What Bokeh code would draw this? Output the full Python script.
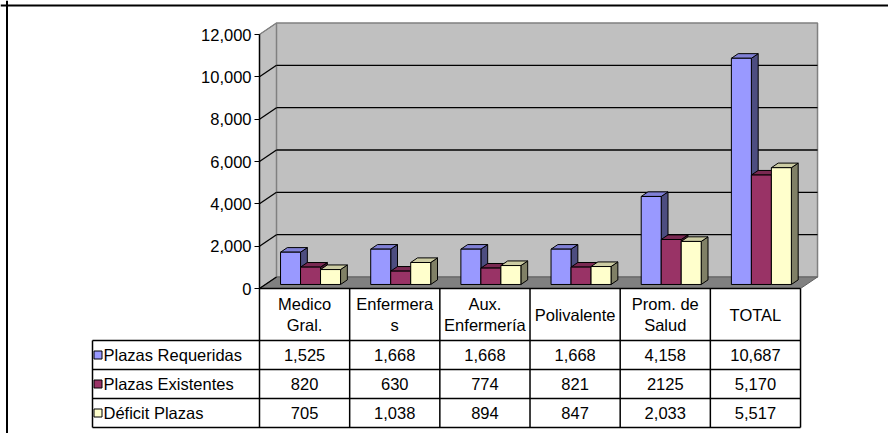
from bokeh.plotting import figure
from bokeh.models import Range1d, LinearAxis, FixedTicker, NumeralTickFormatter, Span
from bokeh.core.properties import value
from bokeh.embed import file_html
from bokeh.resources import INLINE

# ---------------- data ----------------
categories = ["Medico\nGral.", "Enfermera\ns", "Aux.\nEnfermería", "Polivalente", "Prom. de\nSalud", "TOTAL"]
series_names = ["Plazas Requeridas", "Plazas Existentes", "Déficit Plazas"]
requeridas = [1525, 1668, 1668, 1668, 4158, 10687]
existentes = [820, 630, 774, 821, 2125, 5170]
deficit = [705, 1038, 894, 847, 2033, 5517]
requeridas_txt = ["1,525", "1,668", "1,668", "1,668", "4,158", "10,687"]
existentes_txt = ["820", "630", "774", "821", "2125", "5,170"]
deficit_txt = ["705", "1,038", "894", "847", "2,033", "5,517"]
y_ticks = [0, 2000, 4000, 6000, 8000, 10000, 12000]

series = [requeridas, existentes, deficit]
series_txt = [requeridas_txt, existentes_txt, deficit_txt]
front_col = ["#9999FF", "#993366", "#FFFFCC"]
top_col = ["#8080D6", "#7A2952", "#CCCCA3"]
side_col = ["#4D4D80", "#4D1A33", "#808066"]

FONT = "Liberation Sans"
FS = "16.5px"

# ---------------- calibration (pixels of the page) ----------------
W, H = 888, 433
OX, OY = 0, 0
AX_PX, ZERO_PX = 259.0, 288.0        # front axis x, value 0 y
PXU = 90.17                            # px per category
S = 254.0 / 12000.0                    # px per value unit
ymax = 12000

x_range = Range1d((OX - AX_PX) / PXU, (OX + W - AX_PX) / PXU)
y_range = Range1d((ZERO_PX - (OY + H)) / S, (ZERO_PX - OY) / S)

p = figure(width=W, height=H, x_range=x_range, y_range=y_range,
           output_backend="svg", toolbar_location=None,
           min_border=0, min_border_left=0, min_border_right=0,
           min_border_top=0, min_border_bottom=0)
p.xaxis.visible = False
p.yaxis.visible = False
p.grid.visible = False
p.outline_line_color = None
p.background_fill_color = "white"
p.border_fill_color = "white"

n = len(categories)
DX = 17.0 / PXU       # depth offset in x units
DY = 11.5 / S         # depth offset in value units
F0, F1 = 0.35, 0.75   # bar depth fractions
BW = 20.0 / PXU       # bar width

# ---- walls ----
p.patch([0, DX, DX, 0], [0, DY, ymax + DY, ymax], fill_color="#C0C0C0", line_color="#808080", line_width=1)
p.patch([DX, n + DX, n + DX, DX], [DY, DY, ymax + DY, ymax + DY],
        fill_color="#C0C0C0", line_color="#808080", line_width=1.5)
p.patch([0, DX, n + DX, n], [0, DY, DY, 0], fill_color="#808080", line_color="#606060", line_width=1)

# gridlines on back wall and side wall
for t in y_ticks[1:-1]:
    p.line([DX, n + DX], [t + DY, t + DY], line_color="black", line_width=1.3)
for t in y_ticks[:-1]:
    p.line([0, DX], [t, t + DY], line_color="black", line_width=1.3)
p.line([0, DX], [ymax, ymax + DY], line_color="#808080", line_width=1.3)

# ---- bars ----
for i in range(n):
    for j in range(3):
        v = series[j][i]
        x0 = i + 0.5 - 1.5 * BW + j * BW + F0 * DX
        x1 = x0 + BW
        ddx = (F1 - F0) * DX
        b0 = F0 * DY
        b1 = F1 * DY
        # side
        p.patch([x1, x1 + ddx, x1 + ddx, x1], [b0, b1, v + b1, v + b0],
                fill_color=side_col[j], line_color="black", line_width=1)
        # top
        p.patch([x0, x1, x1 + ddx, x0 + ddx], [v + b0, v + b0, v + b1, v + b1],
                fill_color=top_col[j], line_color="black", line_width=1)
        # front
        p.quad(left=x0, right=x1, bottom=b0, top=v + b0,
               fill_color=front_col[j], line_color="black", line_width=1)

# ---- axis ----
ax = LinearAxis(fixed_location=0, bounds=(0, ymax),
                ticker=FixedTicker(ticks=y_ticks),
                formatter=NumeralTickFormatter(format="0,0"))
ax.axis_line_color = "black"
ax.axis_line_width = 1.5
ax.major_tick_line_color = "black"
ax.major_tick_out = 5
ax.major_tick_in = 0
ax.minor_tick_line_color = None
ax.major_label_text_font = FONT
ax.major_label_text_font_size = FS
ax.major_label_text_color = "black"
ax.major_label_standoff = 3
p.add_layout(ax, "left")

# ---- data table ----
row_h = 29.0 / S
hdr_bot = -(340.0 - ZERO_PX) / S
rows_b = [hdr_bot - k * row_h for k in range(4)]
lab_left = (92.0 - AX_PX) / PXU

# horizontal lines
p.line([0, n], [0, 0], line_color="black", line_width=1.5)
for yb in rows_b:
    p.line([lab_left, n], [yb, yb], line_color="black", line_width=1.5)
# vertical lines
for k in range(n + 1):
    p.line([k, k], [0, rows_b[-1]], line_color="black", line_width=1.5)
p.line([lab_left, lab_left], [rows_b[0], rows_b[-1]], line_color="black", line_width=1.5)

# header text
p.text(x=[i + 0.5 for i in range(n)], y=[hdr_bot / 2] * n, text=categories,
       text_align="center", text_baseline="middle", text_font=value(FONT),
       text_font_size=FS, text_color="black", text_line_height=1.2)

# row contents
for j in range(3):
    yc = (rows_b[j] + rows_b[j + 1]) / 2
    p.text(x=[i + 0.5 for i in range(n)], y=[yc] * n, text=series_txt[j],
           text_align="center", text_baseline="middle", text_font=value(FONT),
           text_font_size=FS, text_color="black")
    p.scatter(x=[lab_left + 5.5 / PXU], y=[yc], marker="square", size=8,
              fill_color=front_col[j], line_color="black", line_width=1)
    p.text(x=[lab_left + 11.0 / PXU], y=[yc], text=[series_names[j]],
           text_align="left", text_baseline="middle", text_font=value(FONT),
           text_font_size=FS, text_color="black")

# outer border (top and left)
p.add_layout(Span(location=(ZERO_PX - 5.0) / S, dimension="width", line_color="black", line_width=2))
p.add_layout(Span(location=(6.5 - AX_PX) / PXU, dimension="height", line_color="black", line_width=2))

open("out.html", "w").write(file_html(p, INLINE))
